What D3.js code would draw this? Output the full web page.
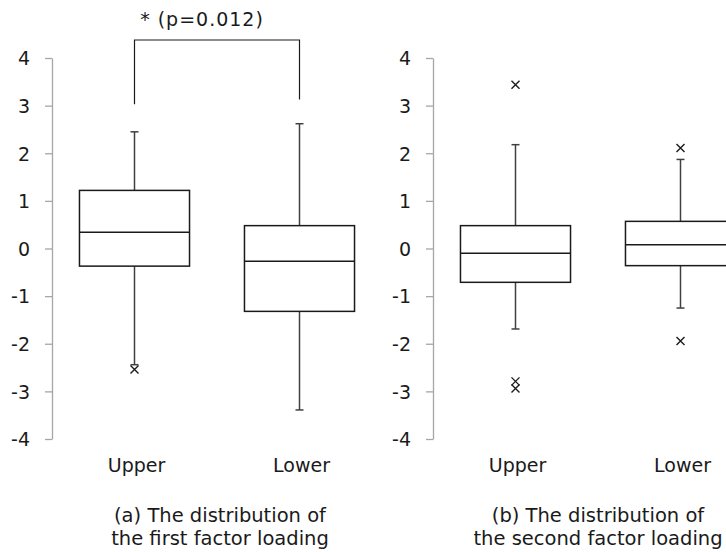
<!DOCTYPE html>
<html>
<head>
<meta charset="utf-8">
<script src="https://cdn.jsdelivr.net/npm/d3@7"></script>
<style>
  body { margin: 0; background: #fff; }
  svg { display: block; }
  text { font-family: "DejaVu Sans", Verdana, sans-serif; fill: #1a1a1a; }
</style>
</head>
<body>
<div id="chart"></div>
<script>
// Groups on the x axis
const groups = ['Upper', 'Lower'];

// y axis ticks
const yTicks = [-4, -3, -2, -1, 0, 1, 2, 3, 4];

// five number summaries [whisker low, Q1, median, Q3, whisker high]
const statsFirst = [
    [-2.44, -0.37, 0.34, 1.22, 2.45],
    [-3.39, -1.32, -0.27, 0.48, 2.62]
];
const statsSecond = [
    [-1.69, -0.71, -0.10, 0.48, 2.18],
    [-1.25, -0.36, 0.08, 0.57, 1.87]
];

// outliers (x markers)
const outliersFirst = [[-2.54], []];
const outliersSecond = [[3.44, -2.79, -2.94], [2.11, -1.94]];

// captions
const captionFirst = ['(a) The distribution of', 'the first factor loading'];
const captionSecond = ['(b) The distribution of', 'the second factor loading'];

// significance bracket between Upper and Lower of panel (a)
const sigLabel = '* (p=0.012)';
const sigLegs = [3.03, 3.13];

const W = 726, H = 552;
const svg = d3.select('#chart').append('svg')
    .attr('width', W)
    .attr('height', H);

const y = d3.scaleLinear().domain([-4, 4]).range([439, 58]);

function drawPanel(axisX, stats, outliers, caption, captionX) {
    const x = d3.scaleBand()
        .domain(groups)
        .range([axisX, axisX + 330])
        .paddingInner(0.333)
        .paddingOuter(0.1665);

    const g = svg.append('g');

    // y axis (plain hyphen for negatives, like the original)
    const axis = g.append('g')
        .attr('transform', `translate(${axisX},0)`)
        .call(d3.axisLeft(y)
            .tickValues(yTicks)
            .tickFormat(d => String(d))
            .tickSize(7)
            .tickPadding(15)
            .tickSizeOuter(0));
    axis.select('.domain').attr('stroke', '#a6a6a6').attr('stroke-width', 1.3);
    axis.selectAll('.tick line').attr('stroke', '#a6a6a6').attr('stroke-width', 1.3);
    axis.selectAll('.tick text')
        .style('font-size', '19px')
        .attr('fill', '#1a1a1a')
        .attr('dy', '0.36em');

    const boxes = g.selectAll('.box')
        .data(groups.map((name, i) => ({ name, s: stats[i], out: outliers[i] })))
        .enter()
        .append('g')
        .attr('class', 'box');

    const cx = d => x(d.name) + x.bandwidth() / 2;
    const cap = 4;

    // whiskers
    boxes.append('line')
        .attr('x1', cx).attr('x2', cx)
        .attr('y1', d => y(d.s[3])).attr('y2', d => y(d.s[4]))
        .attr('stroke', '#404040').attr('stroke-width', 1.5);
    boxes.append('line')
        .attr('x1', cx).attr('x2', cx)
        .attr('y1', d => y(d.s[1])).attr('y2', d => y(d.s[0]))
        .attr('stroke', '#404040').attr('stroke-width', 1.5);
    boxes.append('line')
        .attr('x1', d => cx(d) - cap).attr('x2', d => cx(d) + cap)
        .attr('y1', d => y(d.s[4])).attr('y2', d => y(d.s[4]))
        .attr('stroke', '#404040').attr('stroke-width', 1.5);
    boxes.append('line')
        .attr('x1', d => cx(d) - cap).attr('x2', d => cx(d) + cap)
        .attr('y1', d => y(d.s[0])).attr('y2', d => y(d.s[0]))
        .attr('stroke', '#404040').attr('stroke-width', 1.5);

    // box and median
    boxes.append('rect')
        .attr('x', d => x(d.name))
        .attr('width', x.bandwidth())
        .attr('y', d => y(d.s[3]))
        .attr('height', d => y(d.s[1]) - y(d.s[3]))
        .attr('fill', '#fff')
        .attr('stroke', '#1a1a1a').attr('stroke-width', 1.5);
    boxes.append('line')
        .attr('x1', d => x(d.name)).attr('x2', d => x(d.name) + x.bandwidth())
        .attr('y1', d => y(d.s[2])).attr('y2', d => y(d.s[2]))
        .attr('stroke', '#1a1a1a').attr('stroke-width', 1.5);

    // outliers
    const m = 4;
    boxes.each(function (d) {
        const sel = d3.select(this);
        d.out.forEach(v => {
            sel.append('path')
                .attr('d', `M${cx(d) - m},${y(v) - m}L${cx(d) + m},${y(v) + m}M${cx(d) - m},${y(v) + m}L${cx(d) + m},${y(v) - m}`)
                .attr('stroke', '#1a1a1a').attr('stroke-width', 1.4).attr('fill', 'none');
        });
    });

    // group labels
    g.selectAll('.glabel')
        .data(groups)
        .enter()
        .append('text')
        .attr('x', d => x(d) + x.bandwidth() / 2 + 2)
        .attr('y', 472)
        .attr('text-anchor', 'middle')
        .style('font-size', '19px')
        .text(d => d);

    // caption
    g.selectAll('.caption')
        .data(caption)
        .enter()
        .append('text')
        .attr('x', captionX)
        .attr('y', (d, i) => 522 + i * 23)
        .attr('text-anchor', 'middle')
        .style('font-size', '19.5px')
        .text(d => d);

    return x;
}

const xa = drawPanel(52, statsFirst, outliersFirst, captionFirst, 220);
drawPanel(433, statsSecond, outliersSecond, captionSecond, 598);

// significance bracket
const bx1 = xa('Upper') + xa.bandwidth() / 2;
const bx2 = xa('Lower') + xa.bandwidth() / 2;
svg.append('path')
    .attr('d', `M${bx1},${y(sigLegs[0])}V40H${bx2}V${y(sigLegs[1])}`)
    .attr('fill', 'none')
    .attr('stroke', '#1a1a1a')
    .attr('stroke-width', 1.2);
svg.append('text')
    .attr('x', 202)
    .attr('y', 26)
    .attr('text-anchor', 'middle')
    .style('font-size', '19px')
    .style('letter-spacing', '1px')
    .text(sigLabel);
</script>
</body>
</html>
